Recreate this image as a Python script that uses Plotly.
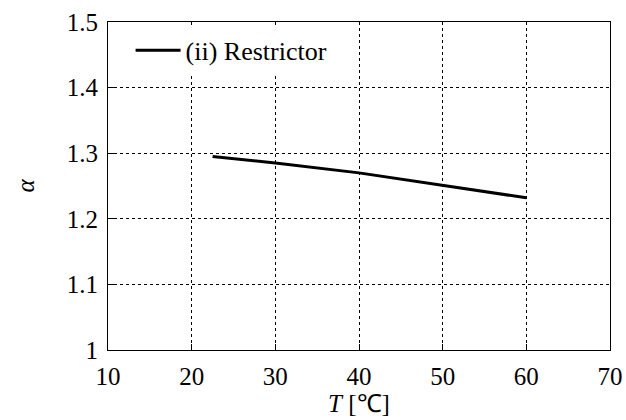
import plotly.graph_objects as go

# Temperature [deg C] and coefficient alpha for the restrictor
temperature = [22.5, 30, 40, 50, 60]
alpha = [1.295, 1.285, 1.270, 1.251, 1.232]
series_name = "(ii) Restrictor"

x_ticks = [10, 20, 30, 40, 50, 60, 70]
y_ticks = [1.0, 1.1, 1.2, 1.3, 1.4, 1.5]
y_tick_text = ["1", "1.1", "1.2", "1.3", "1.4", "1.5"]

font_family = "Liberation Serif"
font_size = 25

fig = go.Figure()
fig.add_trace(go.Scatter(
    x=temperature, y=alpha, mode="lines", name=series_name,
    line=dict(color="black", width=3),
))

axis_common = dict(
    showgrid=True, gridcolor="black", gridwidth=1, griddash="dot",
    showline=True, linecolor="black", linewidth=1, mirror=True,
    ticks="inside", ticklen=6, tickcolor="black",
    zeroline=False, automargin=False,
    tickfont=dict(family=font_family, size=font_size, color="black"),
)

fig.update_xaxes(
    range=[10, 70], tickvals=x_ticks, ticklabelstandoff=4,
    title=dict(text="<i>T</i> [℃]", font=dict(family=font_family, size=font_size, color="black"), standoff=4),
    **axis_common,
)
fig.update_yaxes(
    range=[1.0, 1.5], tickvals=y_ticks, ticktext=y_tick_text, ticklabelstandoff=4,
    title=dict(text="<i>α</i>", font=dict(family=font_family, size=font_size, color="black"), standoff=25),
    **axis_common,
)

fig.update_layout(
    width=626, height=420,
    margin=dict(l=108, r=16, t=22, b=70),
    plot_bgcolor="white", paper_bgcolor="white",
    showlegend=True,
    legend=dict(
        x=0.045, y=0.985, xanchor="left", yanchor="top",
        bgcolor="white", borderwidth=0,
        font=dict(family=font_family, size=26, color="black"),
        itemwidth=45,
    ),
)

fig.write_html("out.html")
